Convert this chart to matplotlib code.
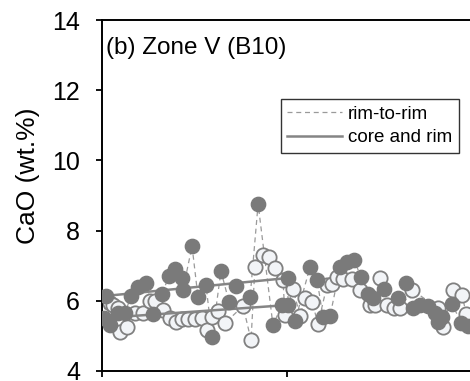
import matplotlib
matplotlib.use("Agg")
import matplotlib.pyplot as plt
import numpy as np

plt.rcParams["font.family"] = ["Liberation Sans", "DejaVu Sans"]

# filled profile: distance along traverse and CaO (wt.%)
solid_x = [1.3, 2.4, 4.6, 8.9, 12.7, 15.9, 19.7, 24.0, 27.8, 32.6, 36.4, 39.6,
           43.4, 43.9, 48.8, 52.0, 56.3, 59.6, 64.4, 68.7, 72.5, 80.1, 84.4,
           92.4, 97.3, 100.5, 100.5, 104.3, 112.4, 116.2, 119.4, 123.2, 128.6,
           132.4, 136.1, 139.9, 143.7, 146.4, 152.3, 159.8, 164.2, 167.9,
           171.7, 176.0, 179.8, 181.4, 183.6, 189.0, 193.8, 197.6]
solid_y = [5.51, 6.14, 5.31, 5.65, 5.65, 6.14, 6.39, 6.51, 5.62, 6.19, 6.71, 6.91,
           6.65, 6.31, 7.56, 6.11, 6.45, 4.97, 6.85, 5.97, 6.42, 6.11, 8.76,
           5.31, 5.88, 5.88, 6.65, 5.42, 6.96, 6.59, 5.54, 5.57, 6.96,
           7.11, 7.16, 6.68, 6.19, 6.08, 6.34, 6.08, 6.51, 5.79,
           5.88, 5.85, 5.65, 5.40, 5.54, 5.91, 5.37, 5.28]

# open profile
open_x = [4.6, 6.2, 8.9, 10.0, 13.7, 18.1, 22.4, 26.1, 28.8, 33.2, 37.0, 40.2,
          43.4, 46.6, 50.4, 54.2, 56.9, 59.6, 62.8, 66.6, 76.3, 80.6, 82.7,
          87.0, 90.3, 93.5, 97.8, 98.9, 103.2, 107.0, 109.7, 113.5, 116.7,
          121.6, 124.3, 127.0, 130.2, 135.0, 139.4, 144.8, 147.4, 150.1, 153.9,
          157.7, 160.9, 167.4, 181.4, 184.1, 189.5, 194.4, 196.5]
open_y = [5.94, 5.88, 5.79, 5.11, 5.25, 5.65, 5.65, 5.99, 5.99, 5.74, 5.51, 5.40,
          5.48, 5.48, 5.48, 5.51, 5.17, 5.54, 5.71, 5.37, 5.85, 4.88, 6.96,
          7.30, 7.25, 6.93, 6.59, 5.60, 6.34, 5.57, 6.08, 5.97, 5.34,
          6.45, 6.48, 6.68, 6.62, 6.62, 6.31, 5.88, 5.88, 6.65, 5.88,
          5.79, 5.79, 6.31, 5.79, 5.25, 6.31, 6.17, 5.62]

# core and rim pairs (core x, rim x), (core y, rim y)
core_rim_x = [[2.4, 100.5], [1.3, 100.5]]
core_rim_y = [[6.14, 6.65], [5.51, 5.88]]

fig = plt.figure(figsize=(4.7, 3.81), dpi=100)
ax = fig.add_axes([101.5 / 470, 10 / 381, 385 / 470, 351 / 381])

ax.plot(solid_x, solid_y, ls=(0, (4, 3)), lw=0.9, color="#9a9a9a", zorder=1)
ax.plot(open_x, open_y, ls=(0, (4, 3)), lw=0.9, color="#9a9a9a", zorder=1,
        label="rim-to-rim")
ax.plot(open_x, open_y, "o", ms=10.3, mfc="#f2f4f7", mec="#808080", mew=1.3,
        ls="none", zorder=2)
for cx, cy in zip(core_rim_x, core_rim_y):
    ax.plot(cx, cy, "-", lw=1.8, color="#858585", zorder=3)
ax.plot([], [], "-", lw=1.8, color="#858585", label="core and rim")
ax.plot(solid_x, solid_y, "o", ms=10.3, mfc="#7a7a7a", mec="#7a7a7a", mew=1.0,
        ls="none", zorder=4)

ax.set_xlim(0, 207.5)
ax.set_ylim(4, 14)
ax.set_yticks([4, 6, 8, 10, 12, 14])
ax.set_xticks([0, 100, 200])
ax.tick_params(axis="both", direction="out", length=4.5, width=1.3,
               labelsize=18, pad=11)
ax.tick_params(axis="x", labelbottom=False)
ax.spines["right"].set_visible(False)
for s in ["left", "bottom", "top"]:
    ax.spines[s].set_linewidth(1.4)

fig.text(28 / 470, 1 - 176 / 381, "CaO (wt.%)", rotation=90, ha="center",
         va="center", fontsize=19)
fig.text(106 / 470, 1 - 48 / 381, "(b) Zone V (B10)", ha="left", va="center",
         fontsize=17.5)

leg = ax.legend(loc="upper right", bbox_to_anchor=(459 / 470, 1 - 99 / 381),
                bbox_transform=fig.transFigure, fontsize=13.5, frameon=True,
                fancybox=False, edgecolor="black", borderaxespad=0,
                handlelength=2.9, handletextpad=0.35, labelspacing=0.35,
                borderpad=0.35)
leg.get_frame().set_linewidth(1.0)

fig.savefig("out.png", dpi=100)
